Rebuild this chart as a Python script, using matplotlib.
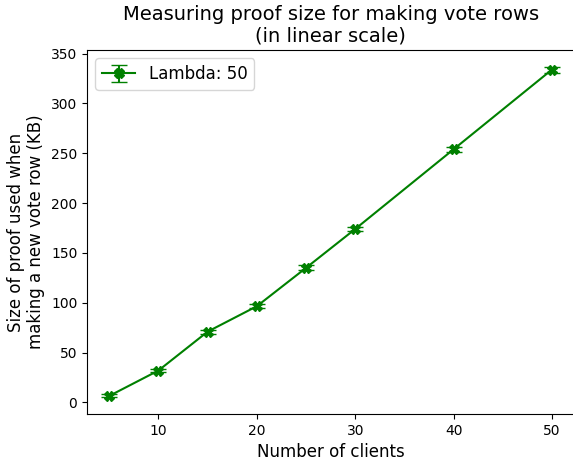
import matplotlib
matplotlib.use("Agg")
import matplotlib.pyplot as plt
import numpy as np

clients = [5, 10, 15, 20, 25, 30, 40, 50]
proof_kb = [6.5, 32, 71, 96.5, 135, 174, 254, 334]
proof_err = [1.5, 1.5, 2, 2, 2.5, 2, 2.5, 3]

fig, ax = plt.subplots(figsize=(5.73, 4.61), dpi=100)
ax.errorbar(clients, proof_kb, yerr=proof_err, fmt='-X', color='green',
            capsize=6, markersize=7, label='Lambda: 50')
leg = ax.legend(loc='upper left', fontsize=12)
for h in leg.legend_handles:
    if hasattr(h, 'set_marker'):
        h.set_marker('o')

ax.set_title('Measuring proof size for making vote rows\n(in linear scale)', fontsize=14)
ax.set_xlabel('Number of clients', fontsize=12)
ax.set_ylabel('Size of proof used when\nmaking a new vote row (KB)', fontsize=12)
# the original is cropped just before the right spine
ax.spines['right'].set_visible(False)

fig.subplots_adjust(left=0.152, right=1.002, top=0.8915, bottom=0.102)
fig.savefig('out.png')
